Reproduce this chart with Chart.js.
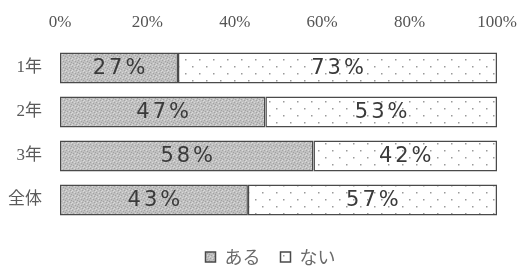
<!DOCTYPE html>
<html>
<head>
<meta charset="utf-8">
<script src="https://cdn.jsdelivr.net/npm/chart.js@4"></script>
<style>
  html, body { margin: 0; padding: 0; background: #fff; }
  #wrap { width: 525px; height: 270px; position: relative; }
</style>
</head>
<body>
<div id="wrap"><canvas id="chart"></canvas></div>
<script>
// data
const categories = ['1年', '2年', '3年', '全体'];
const seriesNames = ['ある', 'ない'];
const aruValues = [27, 47, 58, 43];
const naiValues = [73, 53, 42, 57];
const tickValues = [0, 20, 40, 60, 80, 100];

// gray speckled fill for "ある"
function grayPattern() {
  const c = document.createElement('canvas');
  c.width = 6; c.height = 6;
  const g = c.getContext('2d');
  g.fillStyle = '#c0c0c0';
  g.fillRect(0, 0, 6, 6);
  g.fillStyle = '#a2a2a2';
  [[0, 0], [3, 1], [1, 3], [4, 4], [5, 2]].forEach(p => g.fillRect(p[0], p[1], 1, 1));
  g.fillStyle = '#dadada';
  [[2, 0], [5, 5], [0, 4], [3, 3]].forEach(p => g.fillRect(p[0], p[1], 1, 1));
  return g.createPattern(c, 'repeat');
}

// white fill with small dots for "ない"
function dotPattern() {
  const c = document.createElement('canvas');
  c.width = 14; c.height = 14;
  const g = c.getContext('2d');
  g.fillStyle = '#ffffff';
  g.fillRect(0, 0, 14, 14);
  g.fillStyle = '#9a9a9a';
  g.fillRect(3, 3, 1.5, 1.5);
  g.fillRect(10, 10, 1.5, 1.5);
  return g.createPattern(c, 'repeat');
}

// percentage text in the middle of every segment
const segmentLabels = {
  id: 'segmentLabels',
  afterDatasetsDraw(chart) {
    const ctx = chart.ctx;
    ctx.save();
    ctx.font = '21px "DejaVu Sans"';
    ctx.letterSpacing = '3px';
    ctx.fillStyle = '#3a3a3a';
    ctx.textAlign = 'center';
    ctx.textBaseline = 'middle';
    chart.data.datasets.forEach((ds, i) => {
      chart.getDatasetMeta(i).data.forEach((bar, j) => {
        const cx = (bar.x + bar.base) / 2;
        ctx.fillText(ds.data[j] + '%', cx + 1.5, bar.y + 1);
      });
    });
    ctx.restore();
  }
};

// move the legend a little lower and to the right, as in the scan
const legendShift = {
  id: 'legendShift',
  afterLayout(chart) {
    const lg = chart.legend;
    lg.top += 6;
    lg.bottom += 6;
    lg.left += 22;
    lg.right += 22;
  }
};

const ctx = document.getElementById('chart').getContext('2d');
new Chart(ctx, {
  type: 'bar',
  data: {
    labels: categories,
    datasets: [
      {
        label: seriesNames[0],
        data: aruValues,
        backgroundColor: grayPattern(),
        borderColor: '#4a4a4a',
        borderWidth: 1.5,
        borderSkipped: false,
        barPercentage: 0.7,
        categoryPercentage: 1,
      },
      {
        label: seriesNames[1],
        data: naiValues,
        backgroundColor: dotPattern(),
        borderColor: '#4a4a4a',
        borderWidth: 1.5,
        borderSkipped: false,
        barPercentage: 0.7,
        categoryPercentage: 1,
      },
    ],
  },
  options: {
    indexAxis: 'y',
    responsive: true,
    maintainAspectRatio: false,
    animation: false,
    layout: {
      padding: { left: 0, right: 28, top: 0, bottom: 0 },
    },
    plugins: {
      legend: {
        position: 'bottom',
        labels: {
          boxWidth: 10,
          boxHeight: 10,
          padding: 20,
          color: '#6a6a6a',
          font: { family: '"Noto Sans CJK JP"', size: 18 },
        },
      },
      tooltip: { enabled: false },
    },
    scales: {
      x: {
        position: 'top',
        stacked: true,
        min: 0,
        max: 100,
        afterBuildTicks(axis) {
          axis.ticks = tickValues.map(v => ({ value: v }));
        },
        afterFit(axis) {
          axis.height = 46;
        },
        grid: { display: false },
        border: { display: false },
        ticks: {
          color: '#555',
          padding: 5,
          font: { family: '"Liberation Serif", "DejaVu Serif"', size: 17 },
          callback: v => v + '%',
        },
      },
      y: {
        stacked: true,
        afterFit(axis) {
          axis.width = 60;
        },
        grid: { display: false },
        border: { display: false },
        ticks: {
          color: '#5a5a5a',
          padding: 10,
          font: { family: '"Liberation Serif", "Noto Sans CJK JP"', size: 17 },
        },
      },
    },
  },
  plugins: [segmentLabels, legendShift],
});
</script>
</body>
</html>
